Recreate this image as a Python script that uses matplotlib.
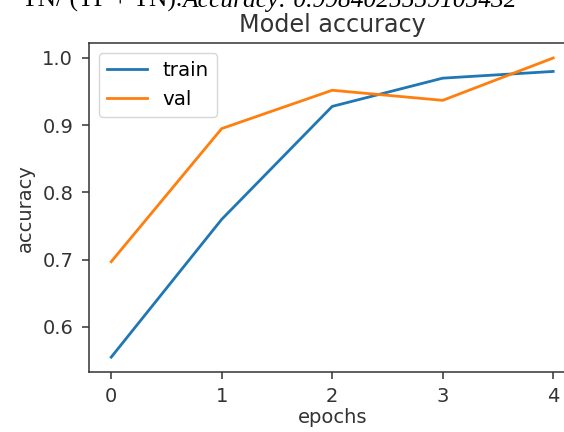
import matplotlib
matplotlib.use("Agg")
import matplotlib.pyplot as plt

epochs = [0, 1, 2, 3, 4]
train_acc = [0.555, 0.760, 0.928, 0.970, 0.980]
val_acc = [0.697, 0.895, 0.952, 0.937, 1.000]
xticks = [0, 1, 2, 3, 4]
yticks = [0.6, 0.7, 0.8, 0.9, 1.0]

plt.rcParams['font.family'] = ['DejaVu Sans']
fig = plt.figure(figsize=(5.64, 4.32), dpi=100)
ax = fig.add_axes([0.158, 0.139, 0.862, 0.761])

ax.plot(epochs, train_acc, color='#1f77b4', lw=2.0, label='train')
ax.plot(epochs, val_acc, color='#ff7f0e', lw=2.0, label='val')
ax.set_xticks(xticks)
ax.set_yticks(yticks)
ax.set_xlim(-0.2, 4.2)
ax.set_ylim(0.533, 1.022)
ax.tick_params(labelsize=14, length=5, width=1.1, colors='#333333')
ax.tick_params(axis='x', pad=5.5)
ax.tick_params(axis='y', pad=6.5)
for s in ax.spines.values():
    s.set_linewidth(1.1)
    s.set_color('#333333')
ax.set_title('Model accuracy', fontsize=17.2, color='#333333', pad=8)
ax.set_xlabel('epochs', fontsize=14, color='#333333', labelpad=1.5)
ax.set_ylabel('accuracy', fontsize=14, color='#333333', labelpad=5.5)
leg = ax.legend(loc='upper left', fontsize=14.3)

# partially visible caption from the surrounding document
t1 = fig.text(22 / 564, 1 - 7 / 432, 'TN/ (TP + TN).', fontsize=18.4,
              family='Liberation Serif', va='baseline', ha='left')
fig.canvas.draw()
bb = t1.get_window_extent(fig.canvas.get_renderer())
fig.text(bb.x1 / fig.bbox.width, 1 - 7 / 432, 'Accuracy: 0.9984025559105432',
         fontsize=18.4, family='Liberation Serif', style='italic',
         va='baseline', ha='left')

fig.savefig('out.png', dpi=100)
